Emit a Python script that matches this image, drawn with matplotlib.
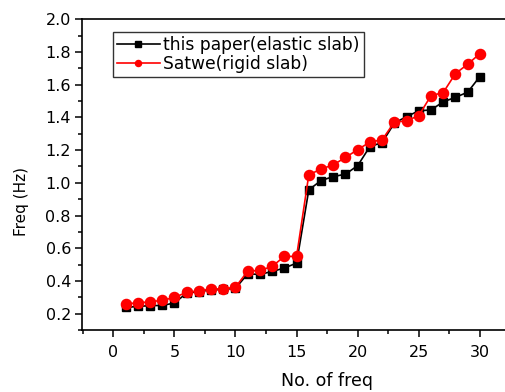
import matplotlib
matplotlib.use("Agg")
import matplotlib.pyplot as plt
from matplotlib.ticker import MultipleLocator

plt.rcParams['font.family'] = ['DejaVu Sans']

freq_no = list(range(1, 31))
this_paper = [0.238, 0.244, 0.249, 0.250, 0.265, 0.325, 0.335, 0.345, 0.348, 0.355,
              0.443, 0.440, 0.458, 0.479, 0.509, 0.957, 1.014, 1.038, 1.053, 1.105,
              1.222, 1.246, 1.365, 1.405, 1.440, 1.446, 1.495, 1.523, 1.554, 1.650]
satwe = [0.261, 0.265, 0.273, 0.281, 0.299, 0.330, 0.340, 0.350, 0.352, 0.362,
         0.460, 0.464, 0.489, 0.550, 0.550, 1.049, 1.084, 1.110, 1.155, 1.203,
         1.249, 1.263, 1.371, 1.379, 1.411, 1.533, 1.552, 1.668, 1.725, 1.790]
labels = ["this paper(elastic slab)", "Satwe(rigid slab)"]
y_ticks = [0.2, 0.4, 0.6, 0.8, 1.0, 1.2, 1.4, 1.6, 1.8, 2.0]
y_ticklabels = ["0.2", "0.4", "0.6", "0.8", "1.0", "1.2", "1.4", "1.6", "1.8", "2.0"]

fig = plt.figure(figsize=(5.05, 3.92), dpi=100)
ax_w = 505*1.01 - 82
ax_h = 330 - 19.3
ax = fig.add_axes([82/505, 1-330/392, ax_w/505, ax_h/392])

ax.plot(freq_no, this_paper, color='black', lw=1.2, marker='s', ms=6.2, label=labels[0])
ax.plot(freq_no, satwe, color='red', lw=1.2, marker='o', ms=7.3, label=labels[1])

ax.set_xlim(-2.56, 32.47)
ax.set_ylim(0.1, 2.0)
ax.xaxis.set_major_locator(MultipleLocator(5))
ax.xaxis.set_minor_locator(MultipleLocator(2.5))
ax.yaxis.set_minor_locator(MultipleLocator(0.1))
ax.set_yticks(y_ticks)
ax.set_yticklabels(y_ticklabels)
ax.tick_params(which='both', direction='out', top=False, right=False, width=1.1)
ax.tick_params(which='major', length=5, labelsize=11.5)
ax.tick_params(which='minor', length=3)
ax.tick_params(axis='x', which='major', pad=5.5)
ax.tick_params(axis='y', which='major', pad=3)
for s in ax.spines.values():
    s.set_linewidth(1.2)
ax.spines['right'].set_visible(False)

ax.set_xlabel("No. of freq", fontsize=12.5)
ax.set_ylabel("Freq (Hz)", fontsize=11)
ax.xaxis.set_label_coords((327-82)/ax_w, (330-372)/ax_h)
ax.yaxis.set_label_coords((29-82)/ax_w, 1-(201-19.3)/ax_h)

leg = ax.legend(loc='upper left', bbox_to_anchor=((112.7-82)/ax_w, 1-(31.7-19.3)/ax_h),
                prop={'size': 12.3}, frameon=True, fancybox=False, edgecolor='black',
                handlelength=2.5, handletextpad=0.2, borderpad=0.25, labelspacing=0.05,
                borderaxespad=0, markerscale=0.6)
leg.get_frame().set_linewidth(1.0)

fig.savefig("out.png", dpi=100)
